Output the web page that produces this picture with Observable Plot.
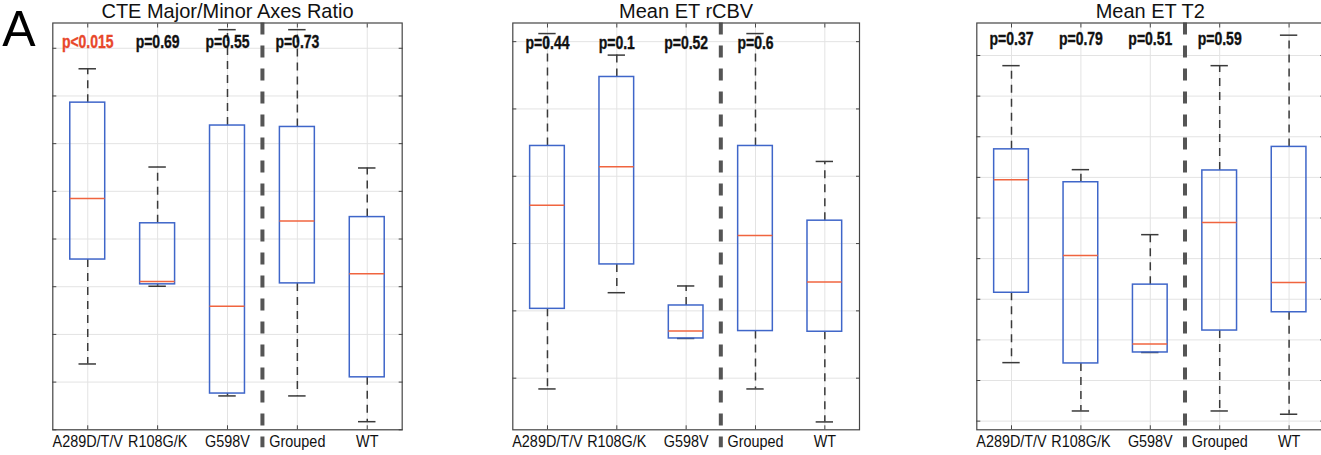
<!DOCTYPE html>
<html>
<head>
<meta charset="utf-8">
<script src="https://cdn.jsdelivr.net/npm/d3@7"></script>
<script src="https://cdn.jsdelivr.net/npm/@observablehq/plot@0.6"></script>
<style>
  html, body { margin: 0; padding: 0; background: #fff; overflow: hidden; }
  #wrap { position: relative; width: 1321px; height: 455px; overflow: hidden; background: #fff; }
</style>
</head>
<body>
<div id="wrap"></div>
<script>
// ---- data (values in units of the panel's grid spacing; axis labels are not shown in the source) ----
const categories = ["A289D/T/V", "R108G/K", "G598V", "Grouped", "WT"];

const cteTitle = "CTE Major/Minor Axes Ratio";
const cteLow  = [1.38, 3.01, 0.71, 0.71, 0.17];
const cteQ1   = [3.57, 3.05, 0.76, 3.07, 1.10];
const cteMed  = [4.85, 3.11, 2.59, 4.38, 3.27];
const cteQ3   = [6.86, 4.33, 6.38, 6.35, 4.46];
const cteHigh = [7.57, 5.51, 8.39, 8.39, 5.49];
const ctePValues = ["p<0.015", "p=0.69", "p=0.55", "p=0.73"];
const cteTicks = [0, 1, 2, 3, 4, 5, 6, 7, 8];
const cteDomain = [0, 8.53];
const ctePY = 8.13;

const rcbvTitle = "Mean ET rCBV";
const rcbvLow  = [0.84, 2.27, 1.59, 0.84, 0.35];
const rcbvQ1   = [2.03, 2.69, 1.59, 1.70, 1.69];
const rcbvMed  = [3.57, 4.14, 1.70, 3.12, 2.43];
const rcbvQ3   = [4.45, 5.475, 2.08, 4.45, 3.34];
const rcbvHigh = [6.12, 5.80, 2.37, 6.12, 4.22];
const rcbvPValues = ["p=0.44", "p=0.1", "p=0.52", "p=0.6"];
const rcbvTicks = [1, 2, 3, 4, 5, 6];
const rcbvDomain = [0.233, 6.277];
const rcbvPY = 5.98;

const t2Title = "Mean ET T2";
const t2Low  = [2.44, 1.25, 2.69, 1.25, 1.17];
const t2Q1   = [4.16, 2.42, 2.69, 3.23, 3.68];
const t2Med  = [6.94, 5.08, 2.90, 5.89, 4.41];
const t2Q3   = [7.69, 6.88, 4.36, 7.17, 7.75];
const t2High = [9.75, 7.19, 5.59, 9.75, 10.50];
const t2PValues = ["p=0.37", "p=0.79", "p=0.51", "p=0.59"];
const t2Ticks = [1, 2, 3, 4, 5, 6, 7, 8, 9, 10];
const t2Domain = [0.787, 10.80];
const t2PY = 10.39;

const significantColor = "#e8472a";

// ---- styles ----
const BOX = "#3f66c9", MED = "#f0643f", WHISK = "#3a3a3a", GRID = "#e3e3e3", AX = "#454545";
const FONT = "'Liberation Sans', Arial, Helvetica, sans-serif";
const CAT_SIZE = 16, P_SIZE = 17.5;

function panel({title, low, q1, med, q3, high, pvals, ticks, domain, pY, left, frameWidth, letter}) {
  const rows = categories.map((c, k) => ({i: k + 1, cat: c, low: low[k], q1: q1[k], med: med[k], q3: q3[k], high: high[k]}));
  const prows = pvals.map((p, k) => ({i: k + 1, p, sig: p.includes("<")}));
  const idx = rows.map(d => d.i);
  const mL = 52.3, mR = 8;
  const marks = [
    Plot.ruleY(ticks, {stroke: GRID, strokeWidth: 1}),
    Plot.ruleX(idx, {stroke: GRID, strokeWidth: 1}),
    // whiskers
    Plot.ruleX(rows, {x: "i", y1: "q3", y2: "high", stroke: WHISK, strokeWidth: 1.5, strokeDasharray: "8,6"}),
    Plot.ruleX(rows, {x: "i", y1: "q1", y2: "low", stroke: WHISK, strokeWidth: 1.5, strokeDasharray: "8,6"}),
    Plot.ruleY(rows, {y: "high", x1: d => d.i - 0.125, x2: d => d.i + 0.125, stroke: WHISK, strokeWidth: 1.5}),
    Plot.ruleY(rows, {y: "low", x1: d => d.i - 0.125, x2: d => d.i + 0.125, stroke: WHISK, strokeWidth: 1.5}),
    // boxes
    Plot.rect(rows, {x1: d => d.i - 0.25, x2: d => d.i + 0.25, y1: "q1", y2: "q3", fill: "none", stroke: BOX, strokeWidth: 1.5}),
    Plot.ruleY(rows, {y: "med", x1: d => d.i - 0.25, x2: d => d.i + 0.25, stroke: MED, strokeWidth: 1.5}),
    // separator
    Plot.ruleX([3.5], {stroke: "#555", strokeWidth: 4, strokeDasharray: "12,11", insetBottom: -18}),
    Plot.frame({stroke: AX, strokeWidth: 1.2}),
    // inside ticks
    Plot.axisY(ticks, {anchor: "left", tickSize: -4, tickFormat: () => "", stroke: AX, label: null}),
    Plot.axisY(ticks, {anchor: "right", tickSize: -4, tickFormat: () => "", stroke: AX, label: null}),
    Plot.axisX(idx, {anchor: "bottom", tickSize: -4, tickFormat: () => "", stroke: AX, label: null}),
    Plot.axisX(idx, {anchor: "top", tickSize: -4, tickFormat: () => "", stroke: AX, label: null}),
    // category labels
    Plot.text(rows, {x: "i", text: "cat", frameAnchor: "bottom", lineAnchor: "bottom", dy: 17.4, fontSize: CAT_SIZE, fill: "#111", fontFamily: FONT}),
    // p-values
    Plot.text(prows, {x: "i", y: () => pY, text: "p", fill: d => d.sig ? significantColor : "#111",
      stroke: d => d.sig ? significantColor : "#111", strokeWidth: 0.35,
      fontWeight: "bold", fontSize: P_SIZE, fontFamily: FONT, lineAnchor: "middle"}),
    // title
    Plot.text([title], {frameAnchor: "top", lineAnchor: "bottom", dy: -5.2, fontSize: 20, fill: "#111", fontFamily: FONT})
  ];
  if (letter) {
    marks.push(Plot.text([letter], {frameAnchor: "top-left", textAnchor: "start", lineAnchor: "bottom", dx: -50.5, dy: 22.8, fontSize: 50, fill: "#000", fontFamily: FONT}));
  }
  const svg = Plot.plot({
    width: mL + frameWidth + mR,
    height: 455,
    marginTop: 22.5,
    marginBottom: 25.7,
    marginLeft: mL,
    marginRight: mR,
    x: {domain: [0.5, 5.5], label: null, axis: null},
    y: {domain, label: null, axis: null},
    style: {fontFamily: FONT, background: "transparent", color: "#111", overflow: "visible"},
    marks
  });
  svg.style.position = "absolute";
  svg.style.left = left + "px";
  svg.style.top = "0px";
  return svg;
}

// condense text horizontally around its anchor (the source uses a narrow typeface)
function condense(svg, size, factor) {
  svg.querySelectorAll(`g[font-size="${size}"] text`).forEach(t => {
    const tr = t.getAttribute("transform") || "";
    t.setAttribute("transform", `${tr} scale(${factor},1)`.trim());
  });
}

const wrap = document.getElementById("wrap");
const panels = [
  panel({title: cteTitle, low: cteLow, q1: cteQ1, med: cteMed, q3: cteQ3, high: cteHigh, pvals: ctePValues, ticks: cteTicks, domain: cteDomain, pY: ctePY, left: 0, frameWidth: 349.4, letter: "A"}),
  panel({title: rcbvTitle, low: rcbvLow, q1: rcbvQ1, med: rcbvMed, q3: rcbvQ3, high: rcbvHigh, pvals: rcbvPValues, ticks: rcbvTicks, domain: rcbvDomain, pY: rcbvPY, left: 460, frameWidth: 346.7}),
  panel({title: t2Title, low: t2Low, q1: t2Q1, med: t2Med, q3: t2Q3, high: t2High, pvals: t2PValues, ticks: t2Ticks, domain: t2Domain, pY: t2PY, left: 924.4, frameWidth: 347})
];
panels.forEach(svg => {
  wrap.appendChild(svg);
  condense(svg, P_SIZE, 0.8);
  condense(svg, CAT_SIZE, 0.9);
});
</script>
</body>
</html>
